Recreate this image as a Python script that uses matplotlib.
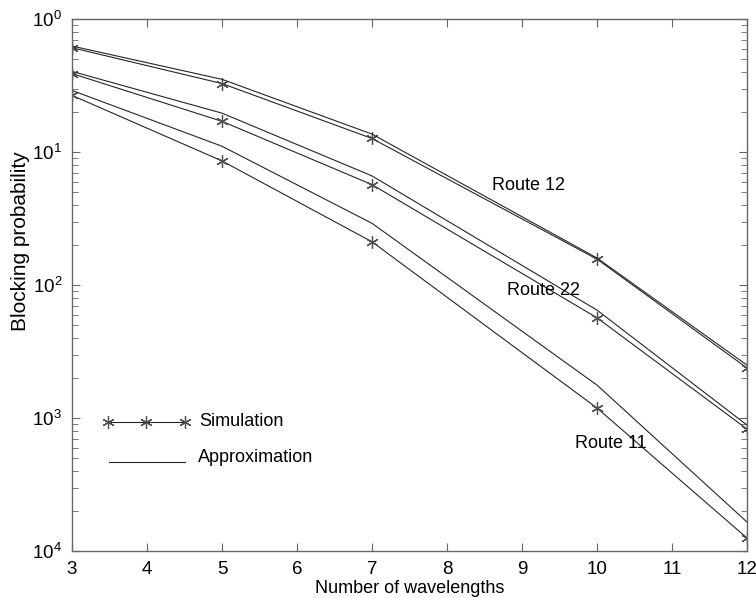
import matplotlib
matplotlib.use("Agg")
import matplotlib.pyplot as plt

plt.rcParams['font.family'] = ['Liberation Sans', 'DejaVu Sans']
plt.rcParams['mathtext.fontset'] = 'custom'
plt.rcParams['mathtext.rm'] = 'Liberation Sans'

# number of wavelengths
wavelengths = [3, 5, 7, 10, 12]

# simulation results (markers)
sim_route12 = [0.612, 0.329, 0.127, 0.0157, 0.00238]
sim_route22 = [0.391, 0.171, 0.0571, 0.00568, 0.000826]
sim_route11 = [0.268, 0.0861, 0.0212, 0.00119, 0.000125]

# approximation (plain lines)
app_route12 = [0.630, 0.354, 0.137, 0.0160, 0.00250]
app_route22 = [0.406, 0.197, 0.0664, 0.00649, 0.000885]
app_route11 = [0.292, 0.111, 0.0292, 0.00177, 0.000165]

y_exps = [0, 1, 2, 3, 4]
y_labels = [r'$\mathregular{10^{%d}}$' % e for e in y_exps]

fig = plt.figure(figsize=(7.56, 5.98), dpi=100)
ax = fig.add_axes([0.0952, 0.0786, 0.893, 0.889])

line_col = '0.15'
mark = (6, 2, 0)
for sim in [sim_route12, sim_route22, sim_route11]:
    ax.plot(wavelengths, sim, color=line_col, lw=0.8, marker=mark,
            markersize=9, markeredgewidth=0.9, markeredgecolor='0.3')
for app in [app_route12, app_route22, app_route11]:
    ax.plot(wavelengths, app, color=line_col, lw=0.8)

ax.set_yscale('log')
ax.set_xlim(3, 12)
ax.set_ylim(1e-4, 1)
ax.set_xticks(range(3, 13))
ax.set_yticks([10.0 ** -e for e in y_exps], y_labels)

ax.tick_params(which='both', direction='in', top=True, right=True,
               color='0.4', labelsize=13.5)
ax.tick_params(which='major', length=6, pad=7)
ax.tick_params(which='minor', length=4)
for s in ax.spines.values():
    s.set_color('0.4')
    s.set_linewidth(1.0)

ax.set_xlabel('Number of wavelengths', fontsize=13, labelpad=2)
ax.set_ylabel('Blocking probability', fontsize=15)
ax.yaxis.set_label_coords(-0.062, 0.583)

# route labels
ax.text(8.6, 10 ** (-(185 - 19) / 133), 'Route 12', fontsize=13, va='center')
ax.text(8.8, 10 ** (-(290 - 19) / 133), 'Route 22', fontsize=13, va='center')
ax.text(9.7, 10 ** (-(443 - 19) / 133), 'Route 11', fontsize=13, va='center')

# hand-drawn legend
ax.plot([0.0527, 0.1098, 0.1669], [0.2429] * 3, transform=ax.transAxes,
        color=line_col, lw=0.8, marker=mark, markersize=9,
        markeredgewidth=0.9, markeredgecolor='0.3')
ax.text(0.188, 0.2429, 'Simulation', transform=ax.transAxes,
        fontsize=13, va='center')
ax.plot([0.0542, 0.1669], [0.1677] * 2, transform=ax.transAxes,
        color=line_col, lw=0.8)
ax.text(0.187, 0.1752, 'Approximation', transform=ax.transAxes,
        fontsize=13, va='center')

fig.savefig('out.png', dpi=100)
